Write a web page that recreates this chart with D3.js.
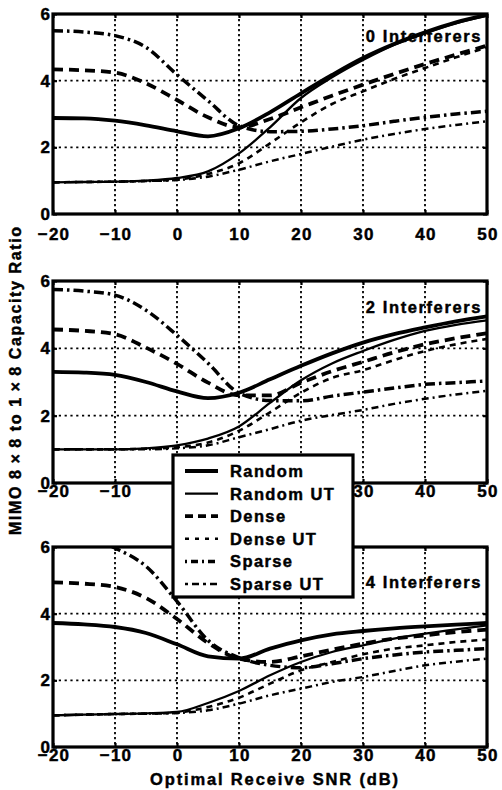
<!DOCTYPE html>
<html><head><meta charset="utf-8">
<script src="https://cdn.jsdelivr.net/npm/d3@7"></script>
<style>
body{margin:0;background:#fff;}
svg text{font-family:"Liberation Sans",Arial,Helvetica,sans-serif;font-weight:bold;fill:#000;stroke:#000;stroke-width:0.45px;}
</style></head><body>
<svg id="chart" width="502" height="790"></svg>
<script>
// ---------- DATA ----------
const snr = [-20,-15,-10,-5,0,5,10,15,20,25,30,35,40,45,50];
const xTicks = [-20,-10,0,10,20,30,40,50];
const yTicks = [0,2,4,6];
const seriesNames = ["Random","Random UT","Dense","Dense UT","Sparse","Sparse UT"];
const panelTitles = ["0 Interferers","2 Interferers","4 Interferers"];
const yLabel = "MIMO 8\u2009\u00d7\u20098 to 1\u2009\u00d7\u20098 Capacity Ratio";
const xLabel = "Optimal Receive SNR (dB)";

// 0 interferers
const random0   = [2.88,2.87,2.80,2.66,2.48,2.33,2.57,3.05,3.62,4.17,4.68,5.10,5.45,5.75,5.97];
const randomUT0 = [0.95,0.96,0.97,1.00,1.08,1.28,1.82,2.60,3.48,4.10,4.62,5.07,5.42,5.72,5.95];
const dense0    = [4.34,4.31,4.24,3.92,3.42,2.90,2.60,2.85,3.20,3.55,3.88,4.20,4.50,4.78,5.05];
const denseUT0  = [0.95,0.96,0.97,0.99,1.03,1.20,1.52,2.12,2.75,3.30,3.68,4.05,4.38,4.70,5.00];
const sparse0   = [5.50,5.46,5.35,5.00,4.18,3.40,2.65,2.47,2.48,2.55,2.65,2.78,2.90,3.00,3.08];
const sparseUT0 = [0.95,0.96,0.97,0.99,1.02,1.12,1.33,1.58,1.80,2.02,2.23,2.40,2.55,2.67,2.78];
// 2 interferers
const random2   = [3.30,3.28,3.21,3.00,2.72,2.52,2.68,3.08,3.48,3.85,4.17,4.42,4.62,4.80,4.95];
const randomUT2 = [1.00,1.00,1.00,1.03,1.12,1.32,1.68,2.38,3.05,3.55,3.92,4.25,4.52,4.70,4.83];
const dense2    = [4.56,4.52,4.42,4.02,3.54,2.98,2.60,2.60,2.98,3.32,3.60,3.88,4.12,4.30,4.45];
const denseUT2  = [1.00,1.00,1.00,1.02,1.06,1.20,1.55,2.10,2.68,3.12,3.35,3.65,3.92,4.12,4.28];
const sparse2   = [5.75,5.70,5.58,5.13,4.39,3.56,2.67,2.45,2.44,2.58,2.70,2.82,2.93,2.98,3.03];
const sparseUT2 = [1.00,1.00,1.00,1.00,1.03,1.12,1.36,1.60,1.85,2.02,2.17,2.35,2.50,2.63,2.74];
// 4 interferers
const random4   = [3.72,3.68,3.60,3.42,3.08,2.72,2.65,2.95,3.20,3.38,3.48,3.56,3.62,3.67,3.72];
const randomUT4 = [0.95,0.97,0.99,1.01,1.05,1.32,1.68,2.15,2.55,2.85,3.05,3.25,3.40,3.53,3.65];
const dense4    = [4.94,4.90,4.80,4.47,3.84,3.12,2.65,2.55,2.72,2.92,3.10,3.25,3.35,3.45,3.52];
const denseUT4  = [0.95,0.97,0.99,1.00,1.03,1.20,1.48,1.90,2.30,2.55,2.78,2.95,3.05,3.15,3.22];
const sparse4   = [6.60,6.35,5.97,5.42,4.37,3.20,2.68,2.45,2.38,2.50,2.65,2.76,2.85,2.90,2.95];
const sparseUT4 = [0.95,0.97,0.99,1.00,1.02,1.10,1.30,1.55,1.75,1.95,2.10,2.28,2.45,2.56,2.65];

const panelData = [
  [random0, randomUT0, dense0, denseUT0, sparse0, sparseUT0],
  [random2, randomUT2, dense2, denseUT2, sparse2, sparseUT2],
  [random4, randomUT4, dense4, denseUT4, sparse4, sparseUT4]
];

// ---------- STYLE / LAYOUT ----------
const styles = [
  {w:3.8, dash:null},
  {w:2.3, dash:null},
  {w:3.8, dash:"10,6"},
  {w:2.6, dash:"6,5"},
  {w:3.5, dash:"10,4,2.5,4"},
  {w:2.5, dash:"7,4,2,4"}
];
const legendDash = [null,null,"8,5","4,6","2,4,7,4","3,4,7,4"];
const X0 = 53, X1 = 487;
const panels = [
  {top:14,  bottom:214, tickBase:240, titleBase:42},
  {top:281, bottom:483, tickBase:497, titleBase:313},
  {top:547, bottom:747, tickBase:761, titleBase:588}
];

const svg = d3.select("#chart");
const x = d3.scaleLinear().domain([-20,50]).range([X0,X1]);

panels.forEach((p,i) => {
  const y = d3.scaleLinear().domain([0,6]).range([p.bottom,p.top]);
  const g = svg.append("g");
  const clipId = "clip"+i;
  svg.append("defs").append("clipPath").attr("id",clipId)
    .append("rect").attr("x",X0).attr("y",p.top).attr("width",X1-X0).attr("height",p.bottom-p.top);

  // grid
  g.selectAll(".vg").data(xTicks.slice(1,-1)).join("line")
    .attr("x1",d=>x(d)).attr("x2",d=>x(d)).attr("y1",p.top).attr("y2",p.bottom)
    .attr("stroke","#000").attr("stroke-width",1.8).attr("stroke-dasharray","2.2,2.8");
  g.selectAll(".hg").data(yTicks.slice(1,-1)).join("line")
    .attr("x1",X0).attr("x2",X1).attr("y1",d=>y(d)).attr("y2",d=>y(d))
    .attr("stroke","#000").attr("stroke-width",1.8).attr("stroke-dasharray","2.2,3.6");

  // lines
  const line = d3.line().x((d,k)=>x(snr[k])).y(d=>y(d)).curve(d3.curveMonotoneX);
  const lg = g.append("g").attr("clip-path",`url(#${clipId})`);
  panelData[i].forEach((arr,s) => {
    lg.append("path").attr("d",line(arr)).attr("fill","none").attr("stroke","#000")
      .attr("stroke-width",styles[s].w).attr("stroke-dasharray",styles[s].dash)
      .attr("stroke-linejoin","round");
  });

  // axes (inward ticks)
  const axB = d3.axisBottom(x).tickValues(xTicks).tickSize(-4).tickFormat("");
  const axT = d3.axisTop(x).tickValues(xTicks).tickSize(-4).tickFormat("");
  const axL = d3.axisLeft(y).tickValues(yTicks).tickSize(-4).tickFormat("");
  const axR = d3.axisRight(y).tickValues(yTicks).tickSize(-4).tickFormat("");
  [[axB,`translate(0,${p.bottom})`],[axT,`translate(0,${p.top})`],[axL,`translate(${X0},0)`],[axR,`translate(${X1},0)`]]
    .forEach(([ax,tr]) => {
      const a = g.append("g").attr("transform",tr).call(ax);
      a.select(".domain").remove();
      a.selectAll("line").attr("stroke","#000").attr("stroke-width",2.2);
    });
  g.append("rect").attr("x",X0).attr("y",p.top).attr("width",X1-X0).attr("height",p.bottom-p.top)
    .attr("fill","none").attr("stroke","#000").attr("stroke-width",3.2);

  // tick labels
  g.selectAll(".xl").data(xTicks).join("text")
    .attr("x",d=>x(d)+1).attr("y",p.tickBase).attr("text-anchor","middle")
    .attr("font-size",17).attr("letter-spacing","1.2px")
    .text(d=>d<0 ? "\u2212"+Math.abs(d) : d);
  g.selectAll(".yl").data(yTicks).join("text")
    .attr("x",X0-3).attr("y",d=>y(d)).attr("dy","0.36em").attr("text-anchor","end")
    .attr("font-size",17).text(d=>d);

  // panel title
  g.append("text").attr("x",482).attr("y",p.titleBase).attr("text-anchor","end")
    .attr("font-size",16.5).attr("letter-spacing","1.6px").text(panelTitles[i]);
});

// axis titles
svg.append("text").attr("transform","translate(21,381) rotate(-90)")
  .attr("text-anchor","middle").attr("font-size",16)
  .attr("textLength",308).attr("lengthAdjust","spacing").text(yLabel);
svg.append("text").attr("x",274).attr("y",785).attr("text-anchor","middle")
  .attr("font-size",16.5).attr("textLength",248).attr("lengthAdjust","spacing").text(xLabel);

// legend
const leg = svg.append("g");
leg.append("rect").attr("x",173).attr("y",455).attr("width",180).attr("height",142)
  .attr("fill","#fff").attr("stroke","#000").attr("stroke-width",3.2);
const ly = d3.scalePoint().domain(seriesNames).range([471,584]);
seriesNames.forEach((n,s) => {
  leg.append("line").attr("x1",185).attr("x2",218).attr("y1",ly(n)).attr("y2",ly(n))
    .attr("stroke","#000").attr("stroke-width",styles[s].w).attr("stroke-dasharray",legendDash[s]);
  leg.append("text").attr("x",230).attr("y",ly(n)).attr("dy","0.36em")
    .attr("font-size",16.5).attr("letter-spacing","1.4px").text(n);
});
</script>
</body></html>
